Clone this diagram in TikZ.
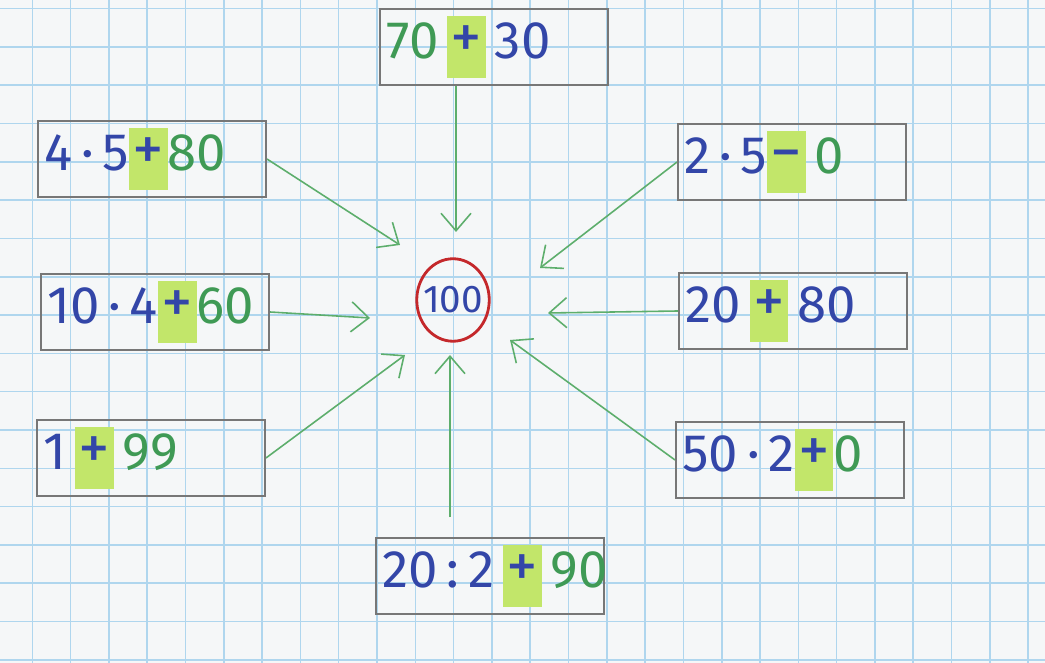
\documentclass[tikz,border=0pt]{standalone}
\usepackage{fontspec}
\setmainfont{Fira Sans}
\usetikzlibrary{arrows.meta}
\usetikzlibrary{shapes.geometric}
\pgfdeclarelayer{gridlayer}
\pgfdeclarelayer{edgelayer}
\pgfdeclarelayer{nodelayer}
\pgfsetlayers{gridlayer,edgelayer,nodelayer,main}
\definecolor{paper}{HTML}{F5F7F8}
\definecolor{gridblue}{HTML}{AFD6EE}
\definecolor{boxgrey}{HTML}{777777}
\definecolor{penblue}{HTML}{3346A8}
\definecolor{pengreen}{HTML}{3F9A55}
\definecolor{arrowgreen}{HTML}{5DAE6C}
\definecolor{hlgreen}{HTML}{C2E66A}
\definecolor{penred}{HTML}{C4282B}
\tikzstyle{grid_line}=[draw=gridblue,line width=0.9pt]
\tikzstyle{sum_box}=[rectangle,draw=boxgrey,line width=1.1pt,minimum height=1.52cm,text width=4.3cm,inner xsep=0.13cm,inner ysep=1pt,align=left,font=\fontsize{30}{30}\selectfont,text=penblue]
\tikzstyle{answer_ring}=[ellipse,draw=penred,line width=1.6pt,minimum width=1.45cm,minimum height=1.65cm,inner sep=-5pt,text=penblue,font=\fontsize{22}{22}\selectfont]
\tikzstyle{pointer}=[-{Straight Barb[length=3.5mm,width=6mm]},draw=arrowgreen,line width=0.9pt]
\newcommand{\ans}[1]{\textcolor{pengreen}{#1}}
\newcommand{\hlsign}[1]{{\setlength{\fboxsep}{0pt}\colorbox{hlgreen}{\rule[-11pt]{0pt}{35pt}\hspace{2pt}\fontsize{36}{36}\selectfont#1\hspace{2pt}}}}

\begin{document}
\begin{tikzpicture}
	\useasboundingbox (0,0) rectangle (20.9,13.26);
	\begin{pgfonlayer}{gridlayer}
		\fill [paper] (0,0) rectangle (20.9,13.26);
		\foreach \i in {0,...,26}
			\draw [style=grid_line] ({0.646+0.766*\i},0) -- ++(0,13.26);
		\foreach \j in {0,...,17}
			\draw [style=grid_line] (0,{13.086-0.766*\j}) -- ++(20.9,0);
	\end{pgfonlayer}
	\begin{pgfonlayer}{nodelayer}
		\node [style={answer_ring}] (c) at (9.06, 7.26) {100};
		\node [style={sum_box}] (0) at (9.88, 12.32) {\ans{70}\,\hlsign{+}\,30};
		\node [style={sum_box}] (1) at (3.04, 10.08) {4\,·\,5\hlsign{+}\ans{80}};
		\node [style={sum_box}] (2) at (15.84, 10.02) {2\,·\,5\hlsign{−}\,\ans{0}};
		\node [style={sum_box}] (3) at (3.10, 7.02) {10\,·\,4\hlsign{+}\ans{60}};
		\node [style={sum_box}] (4) at (15.86, 7.04) {20\,\hlsign{+}\,80};
		\node [style={sum_box}] (5) at (3.02, 4.10) {1\,\hlsign{+}\,\ans{99}};
		\node [style={sum_box}] (6) at (15.80, 4.06) {50\,·\,2\hlsign{+}\ans{0}};
		\node [style={sum_box}] (7) at (9.80, 1.74) {20\,:\,2\,\hlsign{+}\,\ans{90}};
	\end{pgfonlayer}
	\coordinate (t0) at (9.12, 8.62);
	\coordinate (t1) at (8.00, 8.36);
	\coordinate (t2) at (10.80, 7.90);
	\coordinate (t3) at (7.40, 6.90);
	\coordinate (t4) at (10.96, 7.00);
	\coordinate (t5) at (8.10, 6.16);
	\coordinate (t6) at (10.20, 6.46);
	\coordinate (t7) at (9.00, 6.16);
	\begin{pgfonlayer}{edgelayer}
		\draw [style=pointer] (0.south -| t0) to (t0);
		\draw [style=pointer] (1.east) to (t1);
		\draw [style=pointer] (2.west) to (t2);
		\draw [style=pointer] (3.east) to (t3);
		\draw [style=pointer] (4.west) to (t4);
		\draw [style=pointer] (5.east) to (t5);
		\draw [style=pointer] (6.west) to (t6);
		\draw [style=pointer, shorten <=0.4cm] (7.north -| t7) to (t7);
	\end{pgfonlayer}
\end{tikzpicture}
\end{document}
